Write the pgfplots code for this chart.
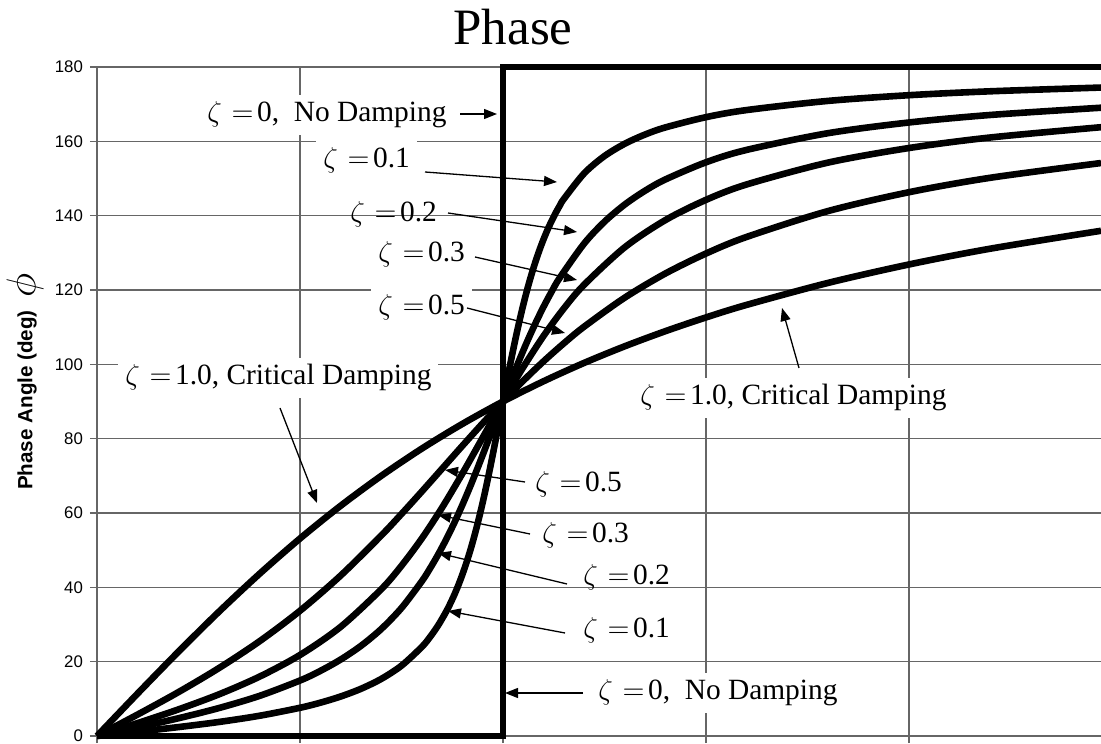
\documentclass[border=0pt]{standalone}
\usepackage{fontspec}
\setmainfont{Liberation Serif}
\setsansfont{Liberation Sans}
\usepackage{pgfplots}
\pgfplotsset{compat=1.18}
\usetikzlibrary{arrows.meta}

\newcommand\ann{\fontsize{14.7}{17}\selectfont}
% "zeta = value" with the digits in the text font
\newcommand\z[1]{$\zeta$\hspace{0.33em}$=$\hspace{0.12em}#1}

\begin{document}
\begin{tikzpicture}
\begin{axis}[
  name=ax, at={(0,0)}, anchor=south west,
  scale only axis, width=502pt, height=334.5pt,
  xmin=0, xmax=2.473, ymin=0, ymax=180,
  xtick={0,0.5,1,1.5,2}, xticklabels={},
  ytick={0,20,...,180},
  grid=major, major grid style={draw=black!60, line width=0.8pt},
  axis x line*=bottom, axis y line*=left,
  axis line style={draw=black!60, line width=0.8pt},
  tick style={draw=black!60, line width=0.8pt},
  tick align=outside, major tick length=3.5pt,
  yticklabel style={font=\sffamily\fontsize{8.4}{10}\selectfont},
  /pgf/number format/assume math mode=true,
  clip=false,
  every axis plot/.append style={black, line width=3.3pt, line join=round},
]
% zeta = 0 (undamped)
\addplot[line join=miter] coordinates {(0,0) (1,0) (1,180) (2.473,180)};
% zeta = 0.1
\addplot[smooth] coordinates {(0,0) (0.1,1.16) (0.2,2.39) (0.3,3.77) (0.4,5.44) (0.5,7.59) (0.55,8.96) (0.6,10.62) (0.65,12.69) (0.7,15.35) (0.75,18.92) (0.8,23.96) (0.82,26.59) (0.84,29.71) (0.86,33.45) (0.87,35.60) (0.88,37.96) (0.89,40.57) (0.9,43.45) (0.91,46.64) (0.92,50.14) (0.93,54.01) (0.94,58.24) (0.95,62.83) (0.96,67.79) (0.97,73.06) (0.98,78.58) (0.99,84.26) (1,90) (1.01,95.68) (1.02,101.20) (1.03,106.47) (1.04,111.42) (1.05,116.02) (1.06,120.25) (1.07,124.10) (1.08,127.61) (1.09,130.79) (1.1,133.67) (1.11,136.27) (1.12,138.64) (1.13,140.78) (1.14,142.73) (1.15,144.50) (1.2,151.39) (1.25,156.04) (1.3,159.35) (1.35,161.83) (1.4,163.74) (1.5,166.50) (1.6,168.41) (1.8,170.87) (2.0,172.41) (2.2,173.46) (2.473,174.47)};
% zeta = 0.2
\addplot[smooth] coordinates {(0,0) (0.1,2.31) (0.2,4.76) (0.3,7.51) (0.4,10.78) (0.5,14.93) (0.55,17.51) (0.6,20.56) (0.65,24.24) (0.7,28.77) (0.75,34.44) (0.8,41.63) (0.82,45.03) (0.84,48.77) (0.86,52.88) (0.88,57.34) (0.9,62.18) (0.92,67.34) (0.94,72.80) (0.96,78.46) (0.98,84.23) (1,90) (1.02,95.66) (1.04,101.10) (1.06,106.25) (1.08,111.06) (1.1,115.51) (1.12,119.59) (1.14,123.31) (1.2,132.51) (1.25,138.37) (1.3,143.00) (1.35,146.71) (1.4,149.74) (1.5,154.36) (1.6,157.69) (1.8,162.18) (2.0,165.07) (2.2,167.09) (2.473,169.04)};
% zeta = 0.3
\addplot[smooth] coordinates {(0,0) (0.1,3.47) (0.2,7.13) (0.3,11.19) (0.4,15.95) (0.5,21.80) (0.6,29.36) (0.7,39.47) (0.75,45.81) (0.8,53.13) (0.85,61.45) (0.9,70.61) (0.95,80.29) (0.975,85.18) (1,90) (1.025,94.71) (1.05,99.24) (1.1,107.65) (1.15,115.05) (1.2,121.43) (1.3,131.50) (1.4,138.81) (1.5,144.25) (1.6,148.39) (1.8,154.26) (2.0,158.20) (2.2,161.03) (2.473,163.80)};
% zeta = 0.5
\addplot[smooth] coordinates {(0,0) (0.1,5.77) (0.2,11.77) (0.3,18.25) (0.4,25.46) (0.5,33.69) (0.6,43.15) (0.7,53.92) (0.75,59.74) (0.8,65.77) (0.85,71.92) (0.9,78.08) (0.95,84.14) (1,90) (1.05,95.58) (1.1,100.81) (1.15,105.66) (1.2,110.14) (1.3,117.95) (1.4,124.44) (1.5,129.81) (1.6,134.27) (1.8,141.22) (2.0,146.31) (2.2,150.19) (2.473,154.16)};
% zeta = 1.0 (critical damping)
\addplot[smooth] coordinates {(0,0) (0.1,11.42) (0.2,22.62) (0.3,33.40) (0.4,43.60) (0.5,53.13) (0.6,61.93) (0.7,69.98) (0.8,77.32) (0.9,83.97) (1,90) (1.1,95.45) (1.2,100.39) (1.3,104.86) (1.4,108.92) (1.5,112.62) (1.6,115.99) (1.8,121.89) (2.0,126.87) (2.2,131.11) (2.473,135.93)};
\end{axis}

% annotations, placed on a 1101 x 743 grid whose origin is the top left corner
\begin{scope}[shift={(ax.south west)}, xshift=-48.5pt, yshift=368pt, x=0.5pt, y=-0.5pt,
  lab/.style={anchor=base west, font=\ann, inner sep=3.5pt},
  arr/.style={line width=0.65pt, -{Triangle[length=6.5pt, width=5pt]}}]
  \node[anchor=base, font=\fontsize{25.5}{30}\selectfont] at (513,45) {Phase};
  \node[rotate=90, font=\sffamily\bfseries\fontsize{10.3}{12}\selectfont] at (27,400) {Phase Angle (deg)};
  \node[rotate=90, font=\fontsize{20}{24}\selectfont] at (25,285) {$\phi$};

  % upper labels
  \node[lab, fill=white] at (200,122) {\z{0},\ \ No Damping};
  \draw[arr] (460,114) -- (497,114);
  \node[lab, fill=white] at (316,168) {\z{0.1}};
  \draw[arr] (425,172) -- (557,182);
  \node[lab] at (343,222) {\z{0.2}};
  \draw[arr] (448,213) -- (577,232);
  \node[lab] at (371,262) {\z{0.3}};
  \draw[arr] (475,257) -- (577,280);
  \node[lab, fill=white] at (371,315) {\z{0.5}};
  \draw[arr] (467,308) -- (565,333);
  \node[lab, fill=white] at (118,385) {\z{1.0}, Critical Damping};
  \draw[arr] (280,408) -- (317,503);
  \node[lab, fill=white] at (633,405) {\z{1.0}, Critical Damping};
  \draw[arr] (799,368) -- (782,308);

  % lower labels
  \node[lab] at (528,492) {\z{0.5}};
  \draw[arr] (525,482) -- (445,470);
  \node[lab] at (535,543) {\z{0.3}};
  \draw[arr] (530,534) -- (438,515);
  \node[lab] at (576,585) {\z{0.2}};
  \draw[arr] (567,584) -- (438,553);
  \node[lab] at (576,638) {\z{0.1}};
  \draw[arr] (565,633) -- (448,611);
  \node[lab, fill=white] at (591,700) {\z{0},\ \ No Damping};
  \draw[arr] (583,693) -- (505,693);

  \pgfresetboundingbox
  \useasboundingbox (0,0) rectangle (1101,743);
\end{scope}
\end{tikzpicture}
\end{document}
